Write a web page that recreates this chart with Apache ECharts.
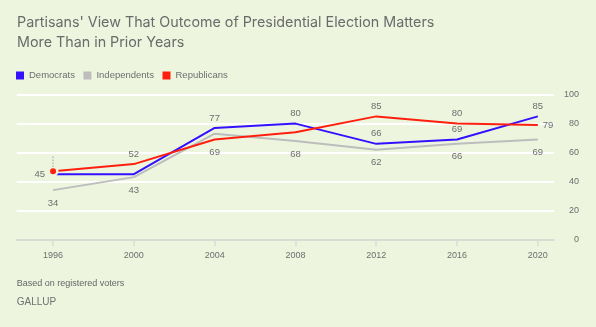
<!DOCTYPE html>
<html>
<head>
<meta charset="utf-8">
<script src="https://cdn.jsdelivr.net/npm/echarts@6/dist/echarts.min.js"></script>
<style>
html,body{margin:0;padding:0;background:#edf5df;}
#chart{width:596px;height:327px;}
</style>
</head>
<body>
<div id="chart"></div>
<script>
const years = [1996, 2000, 2004, 2008, 2012, 2016, 2020];
const democrats = [45, 45, 77, 80, 66, 69, 85];
const independents = [34, 43, 73, 68, 62, 66, 69];
const republicans = [47, 52, 69, 74, 85, 80, 79];
const yTicks = [0, 20, 40, 60, 80, 100];

const titleText = "Partisans' View That Outcome of Presidential Election Matters\nMore Than in Prior Years";
const BG = '#edf5df';
const FONT = 'Liberation Sans, Arial, sans-serif';
const TXT = '#6e6e6e';

// label placement per point (layout only)
const demLabelPos = ['left', null, 'top', 'top', 'top', 'top', 'top'];
const indLabelPos = ['bottom', 'bottom', null, 'bottom', 'bottom', 'bottom', 'bottom'];
const repLabelPos = [null, 'top', 'bottom', null, 'top', 'top', 'right'];

function dist(pos) {
  if (pos === 'bottom') return 8;
  if (pos === 'left') return 8;
  if (pos === 'right') return 5;
  return 5;
}
function build(values, positions) {
  return values.map((v, i) => {
    const pos = positions[i];
    return {
      value: [years[i], v],
      label: pos ? { show: true, position: pos, distance: dist(pos) } : { show: false }
    };
  });
}

const repData = build(republicans, repLabelPos);
repData[0].symbolSize = 8.5;
repData[0].itemStyle = { color: '#ff1f0f', borderColor: BG, borderWidth: 2.5 };

const chart = echarts.init(document.getElementById('chart'), null, { renderer: 'canvas' });
const commonLabel = { fontSize: 9.5, color: TXT, fontFamily: FONT };
chart.setOption({
  backgroundColor: BG,
  animation: false,
  textStyle: { fontFamily: FONT },
  title: {
    text: titleText,
    left: 17, top: 12, padding: 0,
    textStyle: { fontSize: 14.3, lineHeight: 20.5, fontWeight: 'normal', color: '#6b6b6b', fontFamily: 'Inter, Roboto, sans-serif' }
  },
  legend: {
    left: 16, top: 70.5, padding: 0,
    icon: 'rect', itemWidth: 8, itemHeight: 8, itemGap: 8.5,
    textStyle: { fontSize: 9.5, color: TXT, fontFamily: FONT }
  },
  grid: { left: 16.7, right: 42, top: 94.7, bottom: 87.7, containLabel: false },
  xAxis: {
    type: 'value', min: 1994.2, max: 2020.8,
    splitLine: { show: false },
    axisLine: { show: true, lineStyle: { color: '#d9dcd6', width: 2 } },
    axisTick: { show: true, length: 7, lineStyle: { color: '#d9dcd6', width: 1.5 }, customValues: years },
    axisLabel: { customValues: years, fontSize: 9, color: TXT, margin: 12, formatter: v => String(v) }
  },
  yAxis: {
    type: 'value', position: 'right', min: 0, max: 100, interval: 20,
    axisLine: { show: false }, axisTick: { show: false },
    splitLine: { show: true, lineStyle: { color: '#ffffff', width: 2 } },
    axisLabel: { align: 'right', margin: 25, fontSize: 9, color: TXT }
  },
  series: [
    {
      name: 'Democrats', type: 'line', data: build(democrats, demLabelPos),
      color: '#3311ff', lineStyle: { width: 2, color: '#3311ff' },
      symbol: 'circle', symbolSize: 0, showSymbol: true, showAllSymbol: true,
      label: commonLabel, z: 2
    },
    {
      name: 'Independents', type: 'line', data: build(independents, indLabelPos),
      color: '#bdbdbd', lineStyle: { width: 2, color: '#bdbdbd' },
      symbol: 'circle', symbolSize: 0, showSymbol: true, showAllSymbol: true,
      label: commonLabel, z: 1
    },
    {
      name: 'Republicans', type: 'line', data: repData,
      color: '#ff1f0f', lineStyle: { width: 2, color: '#ff1f0f' },
      symbol: 'circle', symbolSize: 0, showSymbol: true, showAllSymbol: true,
      label: commonLabel, z: 3,
      markLine: {
        silent: true, symbol: 'none', label: { show: false },
        lineStyle: { type: 'dotted', color: '#bbbbbb', width: 1.5 },
        data: [[{ coord: [years[0], republicans[0] + 3] }, { coord: [years[0], republicans[0] + 11] }]]
      }
    }
  ],
  graphic: [
    { type: 'text', left: 16.7, top: 279.5, style: { text: 'Based on registered voters', fontSize: 9, fill: '#666', fontFamily: FONT } },
    { type: 'text', left: 16.7, top: 297.5, style: { text: 'GALLUP', fontSize: 10, fill: '#707070', fontFamily: FONT } }
  ]
});
</script>
</body>
</html>
